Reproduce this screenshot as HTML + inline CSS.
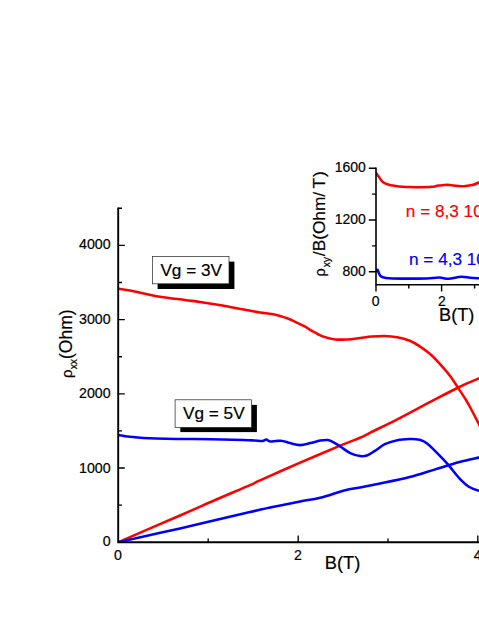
<!DOCTYPE html>
<html><head><meta charset="utf-8"><title>chart</title>
<style>
html,body{margin:0;padding:0;background:#fff;}
body{width:479px;height:620px;overflow:hidden;}
svg{display:block;}
text{font-family:"Liberation Sans",sans-serif;fill:#000;stroke:#000;stroke-width:0.2;}
.tk{font-size:14.2px;}
.ax{stroke:#000;stroke-width:1.9;fill:none;stroke-linecap:butt;}
.cv{fill:none;stroke-width:2.55;stroke-linejoin:round;stroke-linecap:round;}
</style></head><body>
<svg width="479" height="620" viewBox="0 0 479 620">
<rect width="479" height="620" fill="#fff"/>
<!-- main curves -->
<g clip-path="url(#cm)">
<path class="cv" stroke="#f00" d="M118.2 542.2C128.5 537.8 163.8 522.5 180.0 515.5C196.2 508.5 203.5 505.1 215.2 500.0C226.9 494.9 242.5 488.5 250.0 485.2C257.5 481.9 251.7 484.1 260.0 480.4C268.4 476.6 286.7 468.5 300.1 462.7C313.5 456.9 330.2 449.8 340.2 445.6C350.2 441.5 355.0 439.9 360.0 437.8C365.0 435.7 363.8 435.9 370.0 432.8C376.2 429.7 386.6 424.9 397.3 419.4C408.1 413.9 424.1 405.1 434.5 399.7C444.9 394.3 452.0 390.6 459.4 387.0C466.8 383.4 474.6 380.2 479.0 378.3C483.4 376.4 484.8 375.8 486.0 375.3"/>
<path class="cv" stroke="#00f" d="M118.2 542.2C128.5 539.9 158.0 533.4 180.0 528.4C202.0 523.4 234.2 515.6 250.0 512.0C265.9 508.4 266.8 508.2 275.1 506.5C283.5 504.8 292.6 503.0 300.1 501.5C307.6 500.0 312.7 499.6 320.2 497.7C327.7 495.8 338.6 491.9 345.2 490.2C351.8 488.5 353.4 488.8 360.0 487.5C366.6 486.2 376.5 484.2 384.8 482.5C393.1 480.8 401.4 479.1 409.7 477.0C418.0 474.9 426.2 472.1 434.5 469.6C442.8 467.1 452.0 464.1 459.4 462.1C466.8 460.1 474.6 458.6 479.0 457.6C483.4 456.6 484.8 456.3 486.0 456.0"/>
<path class="cv" stroke="#f00" d="M118.5 288.7C120.4 289.0 123.1 289.1 130.0 290.5C136.9 291.9 150.8 295.2 160.0 296.8C169.2 298.4 178.3 299.1 185.0 300.0C191.7 300.9 194.0 301.0 200.0 301.9C206.0 302.8 215.9 304.4 220.9 305.3C225.9 306.2 225.7 306.2 230.0 307.0C234.3 307.8 241.7 309.1 246.7 310.0C251.7 310.9 255.9 311.8 260.1 312.5C264.3 313.2 268.5 313.4 271.8 314.0C275.1 314.6 277.3 315.2 280.1 316.0C282.9 316.8 285.7 317.7 288.5 318.8C291.3 319.9 294.0 321.3 296.8 322.6C299.6 323.9 303.0 325.5 305.2 326.7C307.4 327.9 307.2 328.2 310.1 329.8C313.0 331.4 318.5 334.8 322.7 336.4C326.9 338.0 331.0 338.9 335.2 339.4C339.4 339.9 343.5 339.6 347.7 339.4C351.9 339.1 356.2 338.4 360.3 337.9C364.4 337.4 367.9 336.8 372.0 336.5C376.1 336.2 380.6 335.9 384.8 336.0C389.0 336.1 393.2 336.5 397.3 337.3C401.4 338.1 406.1 339.4 409.7 340.8C413.3 342.2 415.4 343.5 419.0 345.9C422.6 348.3 427.3 351.4 431.5 355.2C435.7 359.0 441.0 365.1 444.1 368.6C447.2 372.1 448.0 373.2 450.3 376.3C452.6 379.4 455.3 383.6 457.8 387.4C460.3 391.2 463.3 395.6 465.3 398.9C467.3 402.2 467.7 402.8 470.0 407.0C472.3 411.2 476.3 419.1 479.0 424.4C481.7 429.7 484.8 436.6 486.0 439.0"/>
<path class="cv" stroke="#00f" d="M118.4 435.1C119.3 435.2 122.1 435.7 124.0 436.0C125.9 436.3 126.8 436.5 130.0 436.8C133.2 437.1 135.6 437.6 143.4 438.0C151.2 438.4 165.7 438.7 176.8 438.9C187.9 439.1 199.1 439.1 210.2 439.3C221.3 439.5 236.1 439.7 243.6 439.9C251.1 440.1 251.8 440.4 255.0 440.6C258.1 440.8 260.6 441.2 262.5 441.0C264.4 440.8 265.1 439.5 266.3 439.6C267.6 439.7 268.4 441.2 270.0 441.4C271.6 441.6 273.9 441.1 276.0 441.0C278.1 440.9 280.2 440.5 282.6 440.9C285.0 441.2 287.2 442.4 290.1 443.1C293.0 443.8 296.8 445.1 300.1 445.1C303.5 445.1 306.9 443.9 310.2 443.1C313.5 442.4 317.3 441.1 320.2 440.6C323.1 440.1 325.6 439.9 327.7 440.1C329.8 440.3 330.6 440.8 332.7 441.9C334.8 442.9 337.3 444.5 340.2 446.4C343.1 448.3 346.9 451.5 350.3 453.1C353.7 454.7 357.4 455.8 360.3 456.1C363.2 456.5 365.1 456.1 367.5 455.2C369.9 454.3 372.0 452.7 374.9 450.9C377.8 449.1 381.1 446.0 384.8 444.2C388.5 442.4 393.2 441.1 397.3 440.2C401.4 439.3 406.0 439.1 409.7 439.0C413.4 438.9 416.7 439.1 419.6 439.8C422.5 440.6 424.6 441.7 427.1 443.5C429.6 445.3 431.2 447.1 434.5 450.4C437.8 453.7 442.9 458.8 447.0 463.4C451.1 468.0 455.7 474.4 459.4 478.3C463.1 482.2 466.0 484.9 469.3 487.0C472.6 489.1 476.2 490.0 479.0 490.7C481.8 491.4 484.8 490.9 486.0 491.0"/>
</g>
<defs><clipPath id="cm"><rect x="118" y="200" width="370" height="343"/></clipPath>
<clipPath id="ci"><rect x="376" y="160" width="110" height="125"/></clipPath></defs>
<!-- main axes -->
<path class="ax" d="M118.2 207.55V543.1M117.3 542.2H479"/>
<path class="ax" style="stroke-width:1.35" d="M118.2 245.4h6.6M118.2 319.6h6.6M118.2 393.8h6.6M118.2 468h6.6M118.2 208.2h3.8M118.2 282.5h3.8M118.2 356.7h3.8M118.2 430.9h3.8M118.2 505.1h3.8"/>
<path class="ax" style="stroke-width:1.35" d="M298.2 542.2v-6.7M477.8 542.2v-6.7M208.2 542.2v-3.8M388 542.2v-3.8"/>
<g class="tk" text-anchor="end">
<text x="110.6" y="249">4000</text>
<text x="110.6" y="324">3000</text>
<text x="110.6" y="398">2000</text>
<text x="110.6" y="473">1000</text>
<text x="110.6" y="546">0</text>
</g>
<g class="tk" text-anchor="middle">
<text x="118" y="560">0</text>
<text x="297.9" y="560">2</text>
<text x="477.6" y="560">4</text>
</g>
<text x="324.8" y="569" font-size="18.3">B(T)</text>
<text transform="translate(72.2,377.9) rotate(-90)" font-size="17.5"><tspan font-size="15">ρ</tspan><tspan font-size="10.4" dy="5.2">xx</tspan><tspan dy="-5.2">(Ohm)</tspan></text>
<!-- labels boxes -->
<rect x="157.6" y="261.6" width="76.8" height="27.4" fill="#000"/>
<rect x="152.4" y="256.4" width="76.6" height="27.4" fill="#fff" stroke="#222" stroke-width="0.7"/>
<text x="191.2" y="276" font-size="17.2" text-anchor="middle">Vg = 3V</text>
<rect x="180.3" y="404.9" width="76.6" height="27.2" fill="#000"/>
<rect x="175.1" y="399.8" width="76.5" height="27.6" fill="#fff" stroke="#222" stroke-width="0.7"/>
<text x="213.8" y="419" font-size="17.2" text-anchor="middle">Vg = 5V</text>
<!-- inset -->
<g clip-path="url(#ci)">
<path class="cv" stroke="#f00" stroke-width="2.9" d="M376.5 173.5C376.9 174.1 377.9 175.6 379.0 177.0C380.1 178.4 381.1 180.7 382.8 182.0C384.5 183.3 386.3 184.1 389.0 184.8C391.7 185.6 395.7 186.1 399.0 186.5C402.3 186.9 405.7 186.9 409.0 187.0C412.3 187.1 415.2 187.2 419.0 187.2C422.8 187.2 428.7 187.1 431.9 186.8C435.1 186.5 435.8 185.9 438.4 185.6C441.0 185.3 444.2 184.8 447.4 184.8C450.6 184.9 454.7 185.7 457.7 185.9C460.7 186.1 462.9 186.3 465.5 186.1C468.1 185.9 470.9 185.4 473.2 184.8C475.4 184.2 476.9 183.3 479.0 182.3C481.1 181.3 484.8 179.6 486.0 179.0"/>
<path class="cv" stroke="#00f" stroke-width="3.0" d="M376.3 271.2C376.5 271.0 377.0 269.4 377.5 269.8C378.0 270.2 378.5 272.6 379.1 273.7C379.7 274.8 379.8 275.7 380.9 276.4C382.0 277.1 383.9 277.6 385.9 277.9C387.9 278.2 388.8 278.3 392.8 278.4C396.8 278.5 404.3 278.6 410.0 278.6C415.7 278.6 422.0 278.7 426.9 278.5C431.8 278.3 435.8 277.4 439.4 277.5C443.0 277.6 444.9 278.9 448.5 278.8C452.1 278.7 457.4 276.9 461.0 276.7C464.6 276.5 467.0 277.5 470.0 277.8C473.0 278.1 476.3 278.2 479.0 278.3C481.7 278.4 484.8 278.5 486.0 278.5"/>
</g>
<path class="ax" style="stroke-width:1.6" d="M376 167.5V285.5M375.2 284.7H479"/>
<path class="ax" style="stroke-width:1.4" d="M376 168.2h-7.2M376 220h-7.2M376 271.8h-7.2M376 194.1h-4M376 245.9h-4"/>
<path class="ax" style="stroke-width:1.4" d="M376 284.7v6.7M441.6 284.7v6.7M408.8 284.7v3.7M474.6 284.7v3.7"/>
<g class="tk" text-anchor="end" style="font-size:14px">
<text x="365.9" y="172">1600</text>
<text x="365.9" y="224">1200</text>
<text x="365.9" y="276">800</text>
</g>
<g class="tk" text-anchor="middle" style="font-size:14px">
<text x="375.6" y="306">0</text>
<text x="441.8" y="306">2</text>
</g>
<text x="439" y="321" font-size="18.2">B(T)</text>
<text transform="translate(325.3,276.6) rotate(-90)" font-size="17.3"><tspan font-size="14.5">ρ</tspan><tspan font-size="10.4" dy="5.1" dx="1">xy</tspan><tspan dy="-5.1" dx="0.8">/B(Ohm/</tspan><tspan dx="-1.2"> T</tspan><tspan dx="0.9">)</tspan></text>
<text x="405.8" y="217" font-size="17.2" style="fill:#f00;stroke:#f00">n = 8,3 10</text>
<text x="409" y="265" font-size="17.2" style="fill:#00f;stroke:#00f">n = 4,3 10</text>
</svg>
</body></html>
